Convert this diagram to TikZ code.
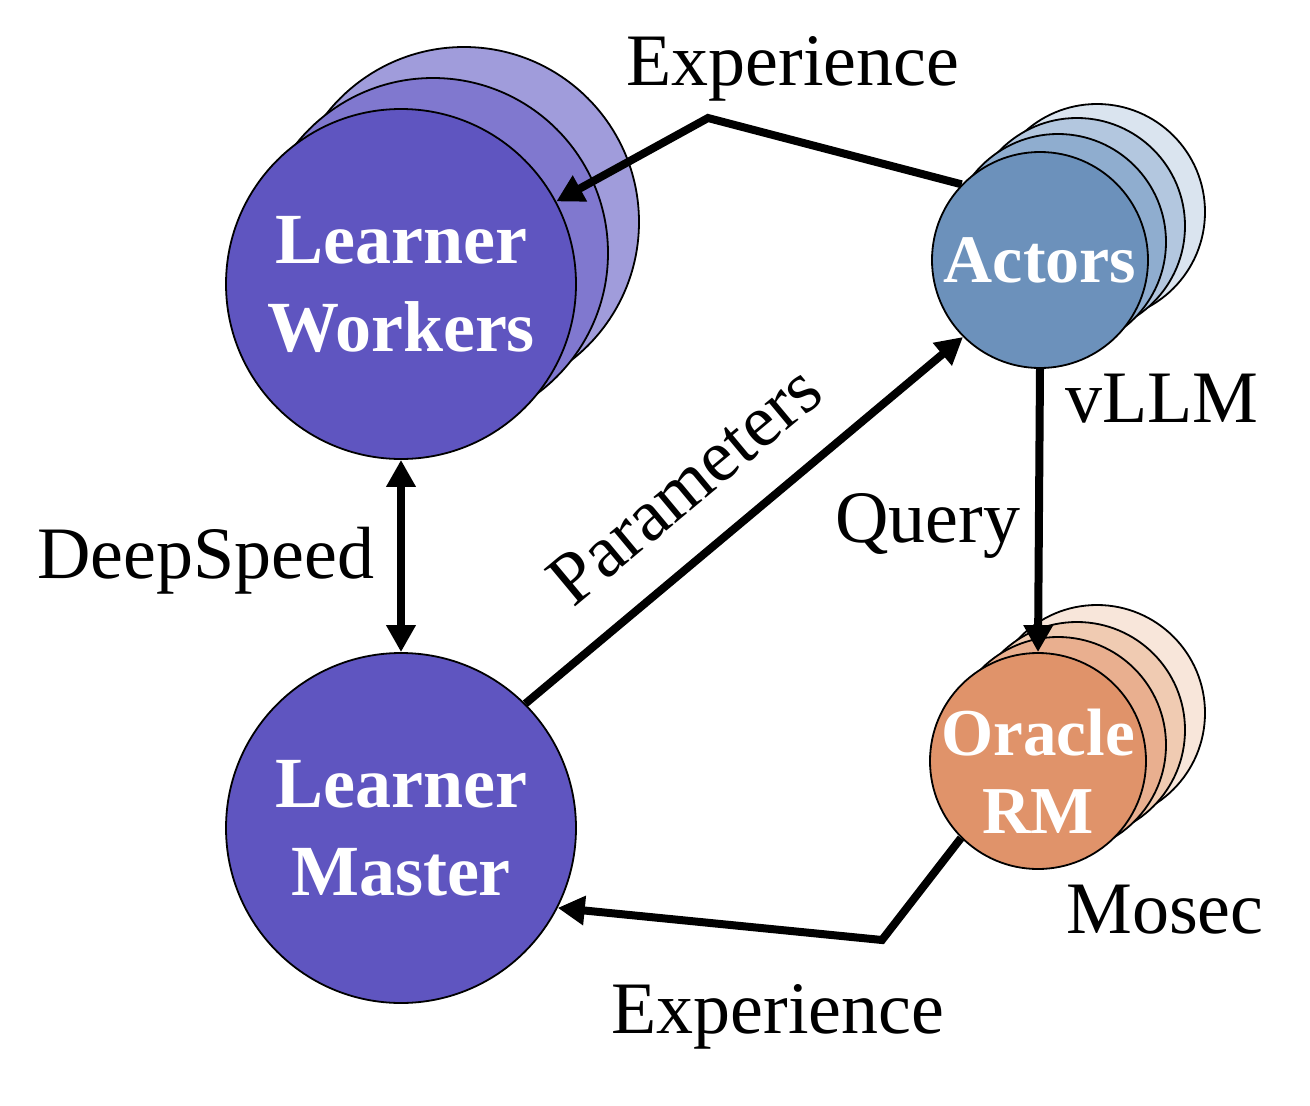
\documentclass[tikz,border=0pt]{standalone}
\usepackage{fontspec}
\setmainfont{Liberation Serif}
\usepackage{xcolor}
\usetikzlibrary{arrows.meta}
\usetikzlibrary{positioning}
\definecolor{lrnA}{HTML}{5F55C0}
\definecolor{lrnB}{HTML}{8078CF}
\definecolor{lrnC}{HTML}{A09CDB}
\definecolor{actA}{HTML}{6C91BB}
\definecolor{actB}{HTML}{8FADCF}
\definecolor{actC}{HTML}{B3C7DF}
\definecolor{actD}{HTML}{DAE4EF}
\definecolor{orcA}{HTML}{E0936A}
\definecolor{orcB}{HTML}{E9AF8F}
\definecolor{orcC}{HTML}{F0CBB2}
\definecolor{orcD}{HTML}{F8E6DA}

\begin{document}
\begin{tikzpicture}[x=1pt, y=-1pt,
		big/.style={draw, circle, line width=1.8pt, inner sep=0pt,
			minimum size=350pt, align=center, text=white,
			font=\fontsize{72}{88}\selectfont\bfseries},
		small/.style={draw, circle, line width=1.8pt, inner sep=-30pt,
			minimum size=216pt, align=center, text=white,
			font=\fontsize{68}{78}\selectfont\bfseries},
		intext/.style={align=center, text=white,
			font=\fontsize{67}{78}\selectfont\bfseries},
		lbl/.style={anchor=base, font=\fontsize{74}{88}\selectfont},
		line/.style={draw, line width=8pt, -{Triangle[length=27pt,width=28pt]}},
		dline/.style={draw, line width=8pt, {Triangle[length=27pt,width=28pt]}-{Triangle[length=27pt,width=28pt]}}]
		\useasboundingbox (0,0) rectangle (1310,1106);
		%% Learner
		\node [big, fill=lrnC] (wrk3) at (464,222) {};
		\node [big, fill=lrnB] (wrk2) at (433,253) {};
		\node [big, fill=lrnA] (workers) at (401,284) {Learner\\Workers};
		\node [big, fill=lrnA] (master) at (401,828) {Learner\\Master};
		%% Actors
		\node [small, fill=actD] (act4) at (1097,212) {};
		\node [small, fill=actC] (act3) at (1077,226) {};
		\node [small, fill=actB] (act2) at (1058,242) {};
		\node [small, fill=actA] (actors) at (1040,260) {Actors};
		%% Oracle
		\node [small, fill=orcD] (orc4) at (1097,713) {};
		\node [small, fill=orcC] (orc3) at (1077,730) {};
		\node [small, fill=orcB] (orc2) at (1058,745) {};
		\node [small, fill=orcA] (oracle) at (1038,761) {};
		\node [intext] (oracletxt) at ([yshift=-10pt]oracle.center) {Oracle\\RM};
		%% Labels
		\node [lbl] (exptop) at (793,85) {Experience};
		\node [lbl] (expbot) at (778,1033) {Experience};
		\node [lbl] (deep) at (206,578) {DeepSpeed};
		\node [lbl] (vllm) at (1162,422) {vLLM};
		\node [lbl] (query) at (928,542) {Query};
		\node [lbl] (mosec) at (1165,933) {Mosec};
		\node [lbl, rotate=39.8] (param) at (700,503) {Parameters};
		\coordinate (bendtop) at (708,118);
		\coordinate (bendbot) at (882,940);
		%% Links
		\path [line] (actors.136) -- (bendtop) -- (workers.28);
		\path [line] (oracle.225) -- (bendbot) -- (master.-27);
		\path [line] (master.45) -- (actors.225);
		\path [line] (actors.south) -- (oracle.north);
		\path [dline] (workers.south) -- (master.north);
\end{tikzpicture}
\end{document}
